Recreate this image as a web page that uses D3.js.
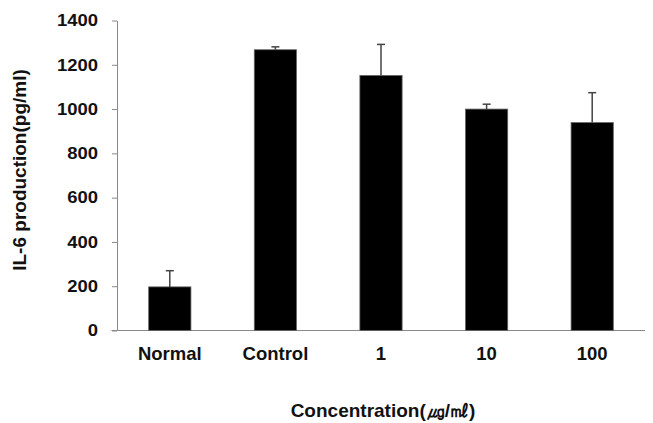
<!DOCTYPE html>
<html>
<head>
<meta charset="utf-8">
<script src="https://cdn.jsdelivr.net/npm/d3@7"></script>
<style>
  html, body { margin: 0; padding: 0; background: #fff; }
  svg { display: block; }
  text { font-family: "Liberation Sans", Arial, sans-serif; fill: #111; }
</style>
</head>
<body>
<svg id="chart" width="653" height="423"></svg>
<script>
const categories = ["Normal", "Control", "1", "10", "100"];
const values = [197, 1268, 1152, 1000, 939];
const errors = [73, 13, 140, 22, 135];
const yTicks = [0, 200, 400, 600, 800, 1000, 1200, 1400];
const yTitle = "IL-6 production(pg/ml)";
const xTitle = "Concentration(㎍/㎖)";

const svg = d3.select("#chart");
const mLeft = 117, mRight = 645, mTop = 20.5, mBottom = 330.5;

const x = d3.scaleBand().domain(categories).range([mLeft, mRight])
  .paddingInner(0.6).paddingOuter(0.3);
const y = d3.scaleLinear().domain([0, 1400]).range([mBottom, mTop]);

// y axis
const yAxis = svg.append("g").attr("transform", `translate(${mLeft},0)`)
  .call(d3.axisLeft(y).tickValues(yTicks).tickFormat(d3.format("d"))
    .tickSize(5).tickPadding(14).tickSizeOuter(0));
yAxis.select(".domain").attr("stroke", "#8a8a8a");
yAxis.selectAll(".tick line").attr("stroke", "#8a8a8a");
yAxis.selectAll(".tick text")
  .style("font-size", "16.5px").style("font-weight", "bold").attr("fill", "#111")
  .each(function() {
    const t = d3.select(this);
    const xx = +t.attr("x");
    t.attr("x", 0).attr("transform", `translate(${xx},0) scale(1.12,1)`);
  });

// x axis line
svg.append("line")
  .attr("x1", mLeft - 5.5).attr("x2", mRight)
  .attr("y1", y(0)).attr("y2", y(0))
  .attr("stroke", "#8a8a8a").attr("stroke-width", 1.2);

// x labels
svg.append("g").selectAll("text").data(categories).join("text")
  .attr("x", d => x(d) + x.bandwidth() / 2)
  .attr("y", y(0) + 29)
  .attr("text-anchor", "middle")
  .style("font-size", "18.5px").style("font-weight", "bold")
  .text(d => d);

// bars
svg.append("g").selectAll("rect").data(values).join("rect")
  .attr("x", (d, i) => x(categories[i]))
  .attr("width", x.bandwidth())
  .attr("y", d => y(d))
  .attr("height", d => y(0) - y(d))
  .attr("fill", "#000")
  .attr("stroke", "#666").attr("stroke-width", 0.8);

// error bars (upward only)
const eg = svg.append("g").attr("stroke", "#444").attr("stroke-width", 1.5);
values.forEach((v, i) => {
  const cx = x(categories[i]) + x.bandwidth() / 2;
  eg.append("line").attr("x1", cx).attr("x2", cx)
    .attr("y1", y(v)).attr("y2", y(v + errors[i]));
  eg.append("line").attr("x1", cx - 4).attr("x2", cx + 4)
    .attr("y1", y(v + errors[i])).attr("y2", y(v + errors[i]));
});

// titles
svg.append("text")
  .attr("transform", "translate(26,170) rotate(-90)")
  .attr("text-anchor", "middle")
  .style("font-size", "19px").style("font-weight", "bold")
  .text(yTitle);

svg.append("text")
  .attr("x", 383).attr("y", 417)
  .attr("text-anchor", "middle")
  .style("font-size", "19px").style("font-weight", "bold")
  .text(xTitle);
</script>
</body>
</html>
